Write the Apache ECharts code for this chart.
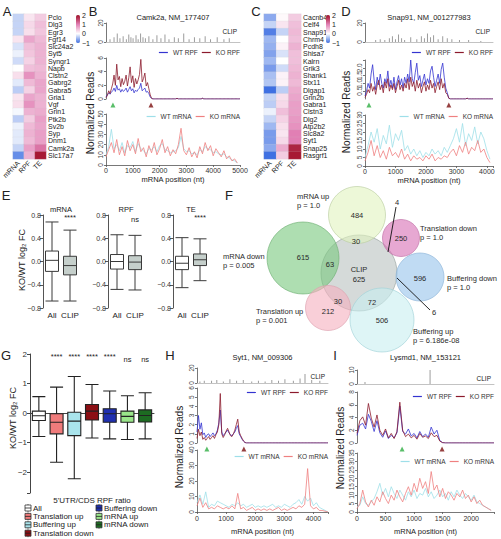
<!DOCTYPE html>
<html><head><meta charset="utf-8">
<script src="https://cdn.jsdelivr.net/npm/echarts@6/dist/echarts.min.js"></script>
<style>html,body{margin:0;padding:0;background:#fff;}#chart{width:501px;height:539px;}</style>
</head><body><div id="chart"></div>
<script>
// ================= DATA =================
// --- A / C heatmaps (log2 FC, KO/WT) ---
const heatCols = ['mRNA','RPF','TE'];
const genesA = ['Pclo','Dlg3','Egr3','Fgf14','Slc24a2','Syt5','Syngr1','Napb','Clstn2','Gabrg2','Gabra5','Gria1','Vgf','Grin1','Ptk2b','Sv2b','Syp','Dnm1','Camk2a','Slc17a7'];
const mrnaA = [-0.3,-0.3,-0.3,0.2,-0.2,-0.1,-0.25,0,0.25,-0.15,-0.35,0.2,0.25,-0.05,-0.35,-0.1,-0.15,-0.15,-0.3,-0.8];
const rpfA  = [0.2,0.3,0.25,0.7,0.5,0.45,0.35,0.5,0.85,0.55,0.35,0.7,0.85,0.6,0.4,0.55,0.6,0.55,0.75,0.6];
const teA   = [0.4,0.5,0.45,0.55,0.6,0.6,0.6,0.55,0.6,0.7,0.7,0.6,0.6,0.65,0.75,0.7,0.75,0.75,1.1,1.9];
const genesC = ['Cacnb4','Celf4','Snap91','Chrm4','Pcdh8','Shisa7','Kalrn','Grik3','Shank1','Stx11','Dlgap1','Grin2b','Gabra1','Clstn3','Dlg2','Atp2b2','Slc8a2','Syt1','Snap25','Rasgrf1'];
const mrnaC = [-0.6,-0.3,-0.9,-0.5,-0.55,-0.65,-0.5,-0.7,-0.45,-0.4,-1.0,-0.3,-0.35,-0.1,-0.3,-0.5,-0.7,-0.7,-0.6,-1.0];
const rpfC  = [0.05,0.2,-0.3,0.0,0.1,-0.2,0,-0.25,0.1,0.1,-0.35,0.25,0.3,0.5,0.35,0.25,0.2,0.3,0.65,0.4];
const teC   = [0.4,0.5,0.55,0.5,0.6,0.5,0.5,0.55,0.6,0.55,0.65,0.7,0.75,0.75,0.8,0.85,1.0,1.0,1.8,1.9];
const heatTicks = [2,1,0,-1];

// --- B: Camk2a ---
const camkLength = 5000;
const camkCds = [260, 1680];
const camkClipPos = [150,300,420,520,640,760,850,930,1010,1120,1200,1290,1380,1470,1600,1750,1900,2050,2200,2350,2550,2700,2900,3100,3300,3500,3700,3900,4150,4400,4600];
const camkClipVal = [3,5,9,4,6,3,8,5,4,7,3,9,5,4,6,3,7,4,8,3,5,4,9,3,5,4,6,3,5,3,4];
const camkRpfStep = 50;
const camkWtRpf = [0.3,0.6,0.9,0.7,1.0,1.2,1.6,1.1,2.0,1.3,1.5,1.0,1.4,1.1,1.3,1.6,1.0,1.4,1.8,1.2,1.5,0.9,1.3,1.1,1.4,1.6,2.3,1.2,1.4,1.6,1.0,1.1,0.8,0.3,0.1,
 0,0,0,0,0,0,0,0,0,0,0,0,0,0,0,0,0,0,0.1,0,0,0,0,0,0,0,0,0,0,0,0,0,0,0,0,0,0,0.1,0,0,0,0,0,0,0,0,0,0,0,0,0,0,0,0,0,0,0,0,0,0,0,0,0,0,0,0];
const camkKoRpf = [0.2,0.5,1.2,0.8,1.5,2.2,3.5,2.0,5.1,2.8,3.3,1.8,3.0,2.1,2.6,3.5,1.9,3.1,4.7,2.4,3.4,1.7,3.0,2.2,2.8,3.6,5.8,2.5,3.0,3.8,1.9,2.4,1.5,0.6,0.1,
 0,0,0,0,0,0,0,0,0,0,0,0,0,0,0,0,0,0,0.1,0,0,0,0,0,0,0,0,0,0,0,0,0,0,0,0,0,0,0.1,0,0,0,0,0,0,0,0,0,0,0,0,0,0,0,0,0,0,0,0,0,0,0,0,0,0,0,0];
const camkMrnaStep = 100;
const camkWtMrna = [10,18,35,16,20,14,22,12,19,17,23,13,21,16,14,11,16,15,18,13,19,21,15,14,12,13,14,17,28,16,13,14,11,12,10,15,13,18,16,15,12,13,11,10,11,8,7,5,4,2];
const camkKoMrna = [8,15,22,12,25,10,18,9,24,14,20,11,26,13,17,8,19,12,22,10,16,25,12,18,9,15,11,20,36,14,10,17,8,13,7,18,11,22,14,19,9,16,12,8,14,6,9,4,6,2];

// --- D: Snap91 ---
const snapLength = 4200;
const snapCds = [130, 2750];
const snapClipPos = [350,500,650,800,900,1000,1100,1200,1300,1500,1700,1850,1950,2050,2150,2250,2400,2550,2700,2850,3100,3400,3800];
const snapClipVal = [2,3,2,4,6,3,8,4,2,5,3,6,4,9,5,7,3,6,4,3,2,2,1];
const snapRpfStep = 50;
const snapWtRpf = [0.2,0.5,1.0,0.7,1.6,2.2,1.2,0.6,1.4,0.9,1.6,1.0,0.7,1.3,1.0,1.8,0.8,1.2,0.7,1.4,0.6,1.1,1.5,0.9,1.3,0.7,1.4,1.0,1.6,1.1,2.5,1.3,1.0,1.7,2.3,1.2,1.5,0.8,1.2,1.6,0.9,1.3,1.0,1.8,2.1,1.4,0.8,1.2,1.6,1.0,1.9,2.3,1.4,0.7,0.4,0.05,
 0,0,0,0,0,0,0,0,0,0,0,0.05,0,0,0,0,0,0,0,0,0,0,0,0,0,0,0,0,0];
const snapKoRpf = [0.1,0.3,0.6,0.4,1.0,0.5,0.8,0.3,0.9,1.2,0.6,0.9,0.4,1.1,0.7,1.3,0.5,0.9,0.6,1.0,0.4,0.8,1.2,0.6,0.9,0.5,1.0,0.7,1.3,0.6,1.4,0.8,1.1,0.5,1.2,0.7,1.0,0.4,0.8,1.1,0.5,0.9,0.6,1.2,0.7,1.0,0.4,0.8,1.1,0.6,1.3,0.7,1.0,0.4,0.3,0.05,
 0,0,0,0,0,0,0,0,0,0,0,0.05,0,0,0,0,0,0,0,0,0,0,0,0,0,0,0,0,0];
const snapMrnaStep = 100;
const snapWtMrna = [5,12,20,14,22,10,18,13,24,11,19,15,21,9,12,7,10,6,9,5,8,6,10,7,9,6,11,8,12,16,22,14,25,12,19,15,23,13,20,16,9,4];
const snapKoMrna = [3,8,15,6,12,5,9,4,11,6,8,5,10,4,7,3,6,4,5,3,6,4,7,3,5,4,6,5,8,10,6,12,8,14,7,11,9,15,8,10,5,2];

// --- H: Syt1 ---
const sytLength = 4500;
const sytCds = [340, 1610];
const sytClipPos = [100,250,500,680,905,1130,1360,1590,1880,2110,2340,2570,2800,3020,3310,3540,3710,3940,4220];
const sytClipVal = [2,3,3,4,2,5,3,4,2,3,2,4,3,5,3,6,12,4,3];
const sytRpfStep = 50;
const sytWtRpf = [1.2,3.0,1.5,2.2,0.9,1.1,0.6,0.9,1.0,0.7,0.9,1.1,0.8,1.0,1.4,2.2,3.6,1.2,0.8,1.0,1.2,1.4,1.1,0.9,0.8,1.0,1.2,1.6,1.9,1.0,0.7,0.4,0.2,0.05,0,
 0,0,0,0,0,0,0,0,0,0,0,0,0,0,0,0,0,0,0,0,0,0,0,0,0,0,0,0,0,0,0,0,0,0,0,0,0,0,0,0,0,0,0,0,0,0,0,0,0,0,0,0,0,0,0,0];
const sytKoRpf = [0.5,1.5,0.8,1.2,0.4,0.6,0.3,0.5,0.7,0.4,0.6,0.8,0.5,0.9,1.2,2.0,5.4,1.0,0.6,0.9,1.3,1.6,1.2,0.8,0.7,1.0,1.4,2.0,2.6,1.2,0.8,0.5,0.2,0.05,0,
 0,0,0,0,0,0,0,0,0,0,0,0,0,0,0,0,0,0,0,0,0,0,0,0,0,0,0,0,0,0,0,0,0,0,0,0,0,0,0,0,0,0,0,0,0,0,0,0,0,0,0,0,0,0,0,0];
const sytMrnaStep = 100;
const sytWtMrna = [6,11,5,13,3,5,4,7,6,5,4,3,5,4,6,4,5,3,4,5,3,4,3,4,3,4,5,3,4,3,5,4,3,5,6,8,5,10,7,9,4,6,3,2,1,0];
const sytKoMrna = [4,9,3,6,2,3,2,4,3,2,3,2,4,2,12,2,3,1,2,3,1,2,1,2,1,2,1,2,3,1,2,1,2,3,2,4,3,5,28,4,2,3,1,1,0.5,0];

// --- I: Lysmd1 ---
const lysLength = 2400;
const lysCds = [790, 1490];
const lysClipPos = [140,1280];
const lysClipVal = [1.5,10];
const lysRpfStep = 50;
const lysWtRpf = [1.2,2.8,3.1,2.2,4.5,3.4,1.8,3.5,1.6,0.9,1.9,0.7,1.2,0.8,1.6,5.8,1.8,1.4,2.2,1.1,1.5,0.8,1.8,1.0,1.4,0.9,2.5,1.4,2.0,0.4,0.05,
 0,0,0,0,0,0,0,0,0,0,0,0,0,0,0,0,0,0];
const lysKoRpf = [1.5,3.5,4.1,2.8,6.2,3.9,2.5,4.4,2.0,1.2,2.2,0.8,1.5,0.7,1.8,6.4,2.0,1.0,1.4,0.8,1.2,0.6,1.5,0.9,1.1,0.7,1.6,1.0,1.2,0.3,0.05,
 0,0,0,0,0,0,0,0,0,0,0,0,0,0,0,0,0,0];
const lysMrnaStep = 50;
const lysWtMrna = [3,4,9,5,4,6,8,12,17,10,14,9,15,11,8,13,10,7,12,9,13,8,11,10,14,9,12,8,10,13,9,11,7,12,9,13,10,8,11,9,7,10,6,5,4,3,2,1];
const lysKoMrna = [2,5,13,6,3,7,4,9,6,12,8,5,10,7,13,9,6,11,15,10,17,12,20,14,18,11,24,13,16,9,14,8,12,10,7,11,9,13,8,10,6,9,5,7,4,3,2,1];

// --- E: box plots [min, Q1, median, Q3, max] for All / CLIP ---
const eCats = ['All','CLIP'];
const eMrna = [[-0.68,-0.17,0.02,0.18,0.68],[-0.68,-0.23,-0.07,0.09,0.54]];
const eRpf  = [[-0.48,-0.13,0.0,0.12,0.46],[-0.49,-0.14,-0.01,0.10,0.45]];
const eTe   = [[-0.45,-0.14,-0.03,0.09,0.41],[-0.33,-0.07,0.03,0.13,0.39]];
const eSig  = ['****','ns','****'];

// --- F: Venn counts ---
const vennNames  = ['CLIP','mRNA up','mRNA down','Translation down','Buffering down','Translation up','Buffering up'];
const vennUnique = [625,484,615,250,596,212,506];
const vennShared = [null,30,63,4,6,30,72];
const vennP      = [null,'1.0','0.005','1.0','1.0','0.001','6.186e-08'];

// --- G: 5'UTR/CDS RPF ratio box plots ---
const gNames = ['All','Translation up','Buffering up','Translation down','Buffering down','mRNA up','mRNA down'];
const gBoxes = [[-0.79,-0.25,-0.09,0.07,0.56],[-1.66,-0.70,-0.31,-0.02,0.88],[-2.22,-0.76,-0.27,0.03,1.24],[-0.84,-0.23,0.07,0.29,0.97],[-0.87,-0.31,-0.02,0.15,0.75],[-0.89,-0.31,-0.11,0.07,0.59],[-0.87,-0.30,-0.08,0.11,0.69]];
const gSig = ['','****','****','****','****','ns','ns'];

// ================= STYLE / LAYOUT =================
const FONT = '"Liberation Sans", Arial, Helvetica, sans-serif';
const HEAT_COLORS = ['#3f70e2','#ffffff','#e17fb4','#a00e26'];
const C_WT_RPF = '#3434d0', C_KO_RPF = '#8c1a2c', C_WT_M = '#9edfe9', C_KO_M = '#ef8080', C_CLIP = '#9c9c9c';
const AX = '#555';
const gColors = ['#ffffff','#f07b7b','#a9e4ec','#8b0f14','#1f2fb0','#9ae68a','#1d6b22'];

const grids = [], xAxes = [], yAxes = [], series = [], legends = [], visualMaps = [];
function addGrid(left, top, width, height) { grids.push({left, top, width, height, containLabel:false}); return grids.length - 1; }
function tickFmt(int, dec, labelMax) {
  return function (v) {
    if (Math.abs(v / int - Math.round(v / int)) > 1e-6) return '';
    if (labelMax != null && v > labelMax + 1e-9) return '';
    if (Math.abs(v) < 1e-9) return (0).toFixed(dec);
    return (v < 0 ? '\u2212' : '') + Math.abs(v).toFixed(dec);
  };
}

// ---- heatmaps ----
function addHeat(left, genes, m, r, t, vmLeft) {
  const gi = addGrid(left, 14, 37, 145);
  xAxes.push({type:'category', gridIndex:gi, data:heatCols, axisLine:{show:false}, axisTick:{show:false}, splitLine:{show:false},
    axisLabel:{rotate:45, fontSize:7, color:'#222', margin:3, interval:0, fontFamily:FONT}});
  yAxes.push({type:'category', gridIndex:gi, data:genes, inverse:true, position:'right', axisLine:{show:false}, axisTick:{show:false}, splitLine:{show:false},
    axisLabel:{fontSize:7, color:'#222', margin:2, interval:0, fontFamily:FONT}});
  const data = [];
  genes.forEach((g, i) => { [m, r, t].forEach((arr, j) => data.push([j, i, arr[i]])); });
  series.push({type:'heatmap', xAxisIndex:gi, yAxisIndex:gi, data, silent:true, itemStyle:{borderWidth:0.3, borderColor:'rgba(200,200,200,0.5)'}});
  visualMaps.push({type:'continuous', min:-1, max:2, seriesIndex:series.length - 1, inRange:{color:HEAT_COLORS},
    left:vmLeft, top:15, itemWidth:4, itemHeight:28, calculable:false, padding:0, show:true, hoverLink:false});
}
addHeat(9, genesA, mrnaA, rpfA, teA, 76);
addHeat(264, genesC, mrnaC, rpfC, teC, 326);

// ---- coverage tracks ----
function yAx(gi, max, int, dec, labelMax) {
  return {type:'value', gridIndex:gi, min:0, max, interval:int, splitLine:{show:false},
    axisLine:{show:true, lineStyle:{color:AX, width:0.8}}, axisTick:{show:true, length:2, lineStyle:{color:AX, width:0.8}},
    axisLabel:{rotate:90, fontSize:6.5, color:'#444', margin:2, fontFamily:FONT, formatter:tickFmt(int, dec, labelMax)}};
}
function cov(vals, step) { return vals.map((v, i) => [i * step, v]); }

const tracks = [
  {title:'Camk2a, NM_177407', left:106, width:134, xmax:camkLength, xInt:1000,
   clip:[23,19,20,20], rpf:[58,41,6,2,0,null], mrna:[114,51,50,10,0], nameGap:10, labMargin:2,
   clipPos:camkClipPos, clipVal:camkClipVal, rStep:camkRpfStep, wtR:camkWtRpf, koR:camkKoRpf, mStep:camkMrnaStep, wtM:camkWtMrna, koM:camkKoMrna, cds:camkCds, uorf:false,
   rLegTop:49, mLegTop:113, nr:[90,113], titleY:17},
  {title:'Snap91, NM_001277983', left:365, width:128, xmax:snapLength, xInt:1000,
   clip:[23,19,20,20], rpf:[60,39,2.5,0.5,1,2.0], mrna:[115,51,30,5,0], nameGap:10, labMargin:2,
   clipPos:snapClipPos, clipVal:snapClipVal, rStep:snapRpfStep, wtR:snapWtRpf, koR:snapKoRpf, mStep:snapMrnaStep, wtM:snapWtMrna, koM:snapKoMrna, cds:snapCds, uorf:false,
   rLegTop:49, mLegTop:113, nr:[346,112], titleY:17},
  {title:'Syt1, NM_009306', left:197, width:131, xmax:sytLength, xInt:1000,
   clip:[368,15,20,20], rpf:[388,55,6,1,0,null], mrna:[450,62,40,10,0], nameGap:15, labMargin:3,
   clipPos:sytClipPos, clipVal:sytClipVal, rStep:sytRpfStep, wtR:sytWtRpf, koR:sytKoRpf, mStep:sytMrnaStep, wtM:sytWtMrna, koM:sytKoMrna, cds:sytCds, uorf:true,
   rLegTop:389, mLegTop:453, nr:[179,447], titleY:357},
  {title:'Lysmd1, NM_153121', left:357, width:137, xmax:lysLength, xInt:500,
   clip:[370,14,10,10], rpf:[392,51,8,2,0,null], mrna:[453,59,35,5,0], nameGap:15, labMargin:3,
   clipPos:lysClipPos, clipVal:lysClipVal, rStep:lysRpfStep, wtR:lysWtRpf, koR:lysKoRpf, mStep:lysMrnaStep, wtM:lysWtMrna, koM:lysKoMrna, cds:lysCds, uorf:true,
   rLegTop:393, mLegTop:458, nr:[340,448], titleY:357}
];

tracks.forEach(tk => {
  // CLIP
  const gC = addGrid(tk.left, tk.clip[0], tk.width, tk.clip[1]);
  xAxes.push({type:'value', gridIndex:gC, min:0, max:tk.xmax, axisLine:{show:true, onZero:false, lineStyle:{color:'#b4b4b4', width:0.8}}, axisTick:{show:false}, axisLabel:{show:false}, splitLine:{show:false}});
  yAxes.push(yAx(gC, tk.clip[2], tk.clip[3], 0, null));
  series.push({type:'bar', name:'CLIP', xAxisIndex:gC, yAxisIndex:gC, barWidth:1, silent:true, itemStyle:{color:C_CLIP},
    data: tk.clipPos.map((p, i) => [p, tk.clipVal[i]])});
  // RPF
  const gR = addGrid(tk.left, tk.rpf[0], tk.width, tk.rpf[1]);
  xAxes.push({type:'value', gridIndex:gR, min:0, max:tk.xmax, show:false, splitLine:{show:false}});
  yAxes.push(yAx(gR, tk.rpf[2], tk.rpf[3], tk.rpf[4], tk.rpf[5]));
  series.push({type:'line', name:'WT RPF', xAxisIndex:gR, yAxisIndex:gR, showSymbol:false, silent:true, color:C_WT_RPF, lineStyle:{width:0.8, color:C_WT_RPF}, data:cov(tk.wtR, tk.rStep)});
  series.push({type:'line', name:'KO RPF', xAxisIndex:gR, yAxisIndex:gR, showSymbol:false, silent:true, color:C_KO_RPF, lineStyle:{width:0.8, color:C_KO_RPF}, data:cov(tk.koR, tk.rStep)});
  series.push({type:'scatter', xAxisIndex:gR, yAxisIndex:gR, symbol:'triangle', symbolSize:5, symbolOffset:[0,6], clip:false, silent:true,
    data:[{value:[tk.cds[0],0], itemStyle:{color:'#2fae43'}}, {value:[tk.cds[1],0], itemStyle:{color:'#7c1010'}}]});
  if (tk.uorf) {
    series.push({type:'scatter', xAxisIndex:gR, yAxisIndex:gR, symbol:'none', symbolSize:1, clip:false, silent:true,
      data:[[tk.cds[0] / 2, 0]],
      label:{show:true, position:'inside', offset:[0,6], formatter:'uORF', fontSize:7, color:'#222', fontFamily:FONT}});
  }
  // mRNA
  const gM = addGrid(tk.left, tk.mrna[0], tk.width, tk.mrna[1]);
  xAxes.push({type:'value', gridIndex:gM, min:0, max:tk.xmax, interval:tk.xInt, splitLine:{show:false},
    axisLine:{show:true, onZero:false, lineStyle:{color:AX, width:0.8}}, axisTick:{show:true, length:2, lineStyle:{color:AX, width:0.8}},
    axisLabel:{fontSize:7, color:'#333', margin:tk.labMargin, fontFamily:FONT, formatter:tickFmt(tk.xInt, 0, null), showMaxLabel:true},
    name:'mRNA position (nt)', nameLocation:'middle', nameGap:tk.nameGap, nameTextStyle:{fontSize:7.5, color:'#222', fontFamily:FONT}});
  yAxes.push(yAx(gM, tk.mrna[2], tk.mrna[3], tk.mrna[4], null));
  series.push({type:'line', name:'WT mRNA', xAxisIndex:gM, yAxisIndex:gM, showSymbol:false, silent:true, color:C_WT_M, lineStyle:{width:0.8, color:C_WT_M}, data:cov(tk.wtM, tk.mStep)});
  series.push({type:'line', name:'KO mRNA', xAxisIndex:gM, yAxisIndex:gM, showSymbol:false, silent:true, color:C_KO_M, lineStyle:{width:0.8, color:C_KO_M}, data:cov(tk.koM, tk.mStep)});
  // legends
  const right = 501 - (tk.left + tk.width);
  const legBase = {right, icon:'rect', itemWidth:9, itemHeight:1.2, itemGap:4, padding:0, selectedMode:false,
    textStyle:{fontSize:6.5, color:'#333', fontFamily:FONT}};
  legends.push(Object.assign({}, legBase, {top:tk.rLegTop, data:['WT RPF','KO RPF']}));
  legends.push(Object.assign({}, legBase, {top:tk.mLegTop, data:['WT mRNA','KO mRNA']}));
});

// ---- E box plots ----
const eGroups = [['mRNA', eMrna], ['RPF', eRpf], ['TE', eTe]];
const eLefts = [43, 108, 173];
const eGridIdx = [];
eGroups.forEach((g, k) => {
  const gi = addGrid(eLefts[k], 215, 36, 93);
  eGridIdx.push(gi);
  xAxes.push({type:'category', gridIndex:gi, data:eCats, axisLine:{show:false}, axisTick:{show:false}, splitLine:{show:false},
    axisLabel:{fontSize:8, color:'#222', margin:3, interval:0, fontFamily:FONT}});
  yAxes.push({type:'value', gridIndex:gi, min:-0.8, max:0.8, interval:0.4, splitLine:{show:false},
    axisLine:{show:true, lineStyle:{color:AX, width:1}}, axisTick:{show:true, length:3, lineStyle:{color:AX}},
    axisLabel:{fontSize:7, color:'#333', margin:2, fontFamily:FONT, formatter:tickFmt(0.4, 1, null)}});
  series.push({type:'boxplot', xAxisIndex:gi, yAxisIndex:gi, boxWidth:[13,13], silent:true,
    itemStyle:{borderColor:'#3a3a3a', borderWidth:1},
    data:[{value:g[1][0], itemStyle:{color:'#ffffff'}}, {value:g[1][1], itemStyle:{color:'#c5cfcb'}}]});
});

// ---- G box plot ----
const gG = addGrid(30, 354, 124, 139);
xAxes.push({type:'category', gridIndex:gG, data:gNames, axisLine:{show:true, lineStyle:{color:'#444', width:1}}, axisTick:{show:false}, axisLabel:{show:false}, splitLine:{show:false},
  name:"5'UTR/CDS RPF ratio", nameLocation:'middle', nameGap:3, nameTextStyle:{fontSize:8, color:'#222', fontFamily:FONT, verticalAlign:'top'}});
yAxes.push({type:'value', gridIndex:gG, min:-2.7, max:2, splitNumber:5, splitLine:{show:false},
  axisLine:{show:true, lineStyle:{color:'#444', width:1}}, axisTick:{show:true, length:3, lineStyle:{color:'#444'}},
  axisLabel:{fontSize:8, color:'#333', margin:3, fontFamily:FONT, formatter:tickFmt(1, 0, null)}});
series.push({type:'boxplot', xAxisIndex:gG, yAxisIndex:gG, boxWidth:[13,13], silent:true,
  itemStyle:{borderColor:'#222', borderWidth:1.1},
  data:gBoxes.map((b, i) => ({value:b, itemStyle:{color:gColors[i]}}))});

// ---- F Venn (layout units ~ px inside the panel) ----
const gV = addGrid(250, 170, 250, 170);
xAxes.push({type:'value', gridIndex:gV, min:0, max:250, show:false});
yAxes.push({type:'value', gridIndex:gV, min:0, max:170, inverse:true, show:false});
const vennCircles = [[109,103,38],[107,45,28.5],[53,88,36],[151,68,18.5],[170,107,24],[78,138,22.5],[132,150,32]];
const vennFill = ['rgba(185,193,191,0.6)','rgba(225,243,190,0.6)','rgba(120,200,125,0.6)','rgba(215,110,180,0.6)','rgba(150,195,235,0.6)','rgba(245,175,190,0.6)','rgba(200,238,240,0.6)'];
const vennStroke = ['rgba(150,160,158,0.8)','rgba(185,205,160,0.8)','rgba(110,175,115,0.8)','rgba(190,110,165,0.8)','rgba(140,180,215,0.8)','rgba(220,160,175,0.8)','rgba(160,210,215,0.8)'];
const vennUniqueAt = [[109,109],[107,45],[53,87],[151,68],[170,108],[78,141],[132,150]];
const vennSharedAt = [null,[106,71],[80,94],[147,32],[184,142],[88,131],[122,132]];
const vennLabelAt = [null,[47,22],[-27,82],[170,54],[197,104],[6,137],[163,157]];
const vennLeaders = [[[146,37],[138,82]],[[180,140],[147,108]]];
series.push({type:'custom', coordinateSystem:'cartesian2d', xAxisIndex:gV, yAxisIndex:gV, silent:true, clip:false,
  data: vennCircles.map((c, i) => [c[0], c[1], c[2], i]),
  renderItem: (params, api) => {
    const i = api.value(3);
    const p = api.coord([api.value(0), api.value(1)]);
    const r = api.size([api.value(2), 0])[0];
    return {type:'circle', shape:{cx:p[0], cy:p[1], r}, style:{fill:vennFill[i], stroke:vennStroke[i], lineWidth:0.8}};
  }});
series.push({type:'custom', coordinateSystem:'cartesian2d', xAxisIndex:gV, yAxisIndex:gV, silent:true, clip:false,
  data: vennLeaders.map(l => [l[0][0], l[0][1], l[1][0], l[1][1]]),
  renderItem: (params, api) => {
    const a = api.coord([api.value(0), api.value(1)]), b = api.coord([api.value(2), api.value(3)]);
    return {type:'line', shape:{x1:a[0], y1:a[1], x2:b[0], y2:b[1]}, style:{stroke:'#111', lineWidth:0.9}};
  }});
const vennTexts = [];
vennNames.forEach((n, i) => {
  vennTexts.push({at:vennUniqueAt[i], text:String(vennUnique[i]), align:'center'});
  if (i === 0) vennTexts.push({at:[109,99], text:'CLIP', align:'center'});
  if (vennShared[i] != null) vennTexts.push({at:vennSharedAt[i], text:String(vennShared[i]), align:'center'});
  if (vennLabelAt[i]) vennTexts.push({at:vennLabelAt[i], text:n + '\np = ' + vennP[i], align:'left'});
});
series.push({type:'custom', coordinateSystem:'cartesian2d', xAxisIndex:gV, yAxisIndex:gV, silent:true, clip:false,
  data: vennTexts.map((t, k) => [t.at[0], t.at[1], k]),
  renderItem: (params, api) => {
    const t = vennTexts[api.value(2)];
    const p = api.coord([api.value(0), api.value(1)]);
    const multi = t.text.indexOf('\n') >= 0;
    return {type:'text', x:p[0], y:p[1], style:{text:t.text, fill:'#2a2a2a', font:'7.5px ' + FONT, align:t.align, verticalAlign: multi ? 'top' : 'middle', lineHeight:9}};
  }});

// ================= RENDER =================
const chart = echarts.init(document.getElementById('chart'), null, {renderer:'svg', width:501, height:539});
chart.setOption({
  animation:false, backgroundColor:'#fff', textStyle:{fontFamily:FONT},
  grid:grids, xAxis:xAxes, yAxis:yAxes, series, legend:legends, visualMap:visualMaps, tooltip:{show:false}
});

// ---- annotations (text) ----
const G = [];
function txt(x, y, text, o, rot) {
  const el = {type:'text', x, y, silent:true, style:Object.assign({text, fontSize:8, fill:'#222', fontFamily:FONT, align:'center', verticalAlign:'middle'}, o || {})};
  if (rot) el.rotation = rot;
  return el;
}
[['A',7,11],['B',93,11],['C',256,11],['D',346,11],['E',6,195],['F',229,195],['G',6,355],['H',170,355],['I',335,355]]
  .forEach(l => G.push(txt(l[1], l[2], l[0], {fontSize:13})));
[[82],[332]].forEach(c => heatTicks.forEach(v => G.push(txt(c[0], 15 + (2 - v) / 3 * 28, (v < 0 ? '\u2212' : '') + Math.abs(v), {fontSize:7, align:'left'}))));
tracks.forEach(tk => {
  G.push(txt(tk.left + tk.width / 2, tk.titleY, tk.title, {fontSize:7.5}));
  G.push(txt(tk.left + tk.width - 3, tk.clip[0] + 8, 'CLIP', {fontSize:6.5, align:'right'}));
  G.push(txt(tk.nr[0], tk.nr[1], 'Normalized Reads', {fontSize:10}, Math.PI / 2));
});
eGroups.forEach((g, k) => {
  const gi = eGridIdx[k];
  G.push(txt(eLefts[k] + 18, 209, g[0], {fontSize:7.5}));
  const p = chart.convertToPixel({xAxisIndex:gi, yAxisIndex:gi}, [1, eSig[k] === 'ns' ? 0.72 : 0.76]);
  G.push(txt(p[0], p[1], eSig[k], {fontSize:7.5}));
});
G.push(txt(22, 260, 'KO/WT log\u2082 FC', {fontSize:9}, Math.PI / 2));
G.push(txt(13, 418, 'KO/WT log\u2082 FC', {fontSize:9}, Math.PI / 2));
gSig.forEach((s, i) => {
  if (!s) return;
  const p = chart.convertToPixel({xAxisIndex:gG, yAxisIndex:gG}, [i, s === 'ns' ? 1.82 : 1.9]);
  G.push(txt(p[0], p[1], s, {fontSize:7.5}));
});
gNames.forEach((n, i) => {
  const col = i < 4 ? 0 : 1, row = i < 4 ? i : i - 4;
  const x = col === 0 ? 25 : 96, y = 508 + row * 8.4;
  G.push({type:'line', silent:true, shape:{x1:x + 3, y1:y - 4, x2:x + 3, y2:y + 4}, style:{stroke:'#555', lineWidth:0.8}});
  G.push({type:'rect', silent:true, shape:{x:x, y:y - 3, width:6, height:6}, style:{fill:gColors[i], stroke:'#333', lineWidth:0.8}});
  G.push({type:'line', silent:true, shape:{x1:x, y1:y, x2:x + 6, y2:y}, style:{stroke:'#222', lineWidth:0.8}});
  G.push(txt(x + 8, y, n, {fontSize:8, align:'left'}));
});
chart.setOption({graphic:{elements:G}});
</script>
</body></html>
